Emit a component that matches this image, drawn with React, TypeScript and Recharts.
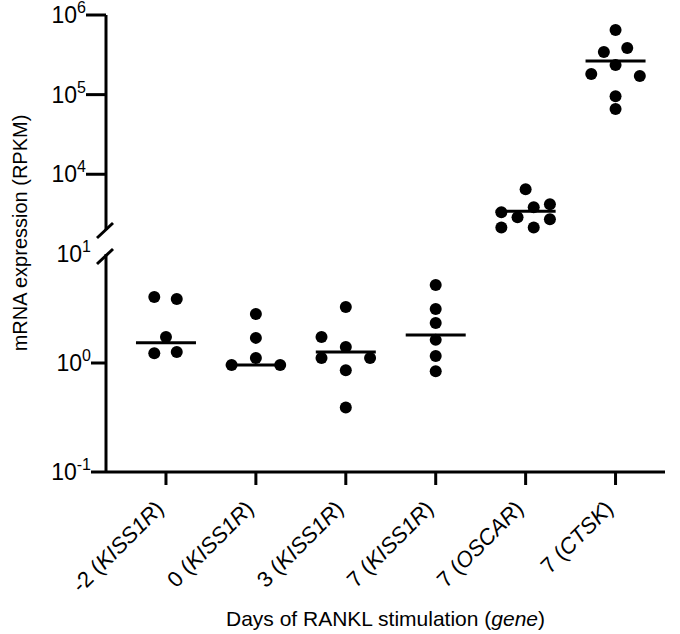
import React from 'react';
import { ScatterChart, Scatter, XAxis, YAxis } from 'recharts';

const days = ['-2', '0', '3', '7', '7', '7'];
const genes = ['KISS1R', 'KISS1R', 'KISS1R', 'KISS1R', 'OSCAR', 'CTSK'];

// RPKM per sample
const kiss1rDayMinus2 = [4.03, 3.87, 1.73, 1.23, 1.26];
const kiss1rDay0 = [2.82, 1.7, 1.11, 0.96, 0.96];
const kiss1rDay3 = [3.26, 1.73, 1.4, 1.11, 1.11, 0.86, 0.39];
const kiss1rDay7 = [5.2, 3.13, 2.33, 1.63, 1.16, 0.84];
const oscarDay7 = [6470, 3330, 2880, 3850, 4200, 2720, 2150, 2150];
const ctskDay7 = [647000, 343000, 385000, 235000, 181000, 171000, 95700, 65800];
const medians = [1.53, 0.96, 1.26, 1.81, 3430, 264000];

// sideways spread of each dot inside its column (in column units)
const spread = [
  [-0.13, 0.12, 0, -0.13, 0.12],
  [0, 0, 0, -0.27, 0.27],
  [0, -0.27, 0, -0.27, 0.27, 0, 0],
  [0, 0, 0, 0, 0, 0],
  [0, -0.27, -0.09, 0.09, 0.27, 0.27, -0.27, 0.09],
  [0, -0.13, 0.13, 0, -0.27, 0.27, 0, 0],
];

const lowerTicks = [0.1, 1, 10];
const upperTicks = [1e4, 1e5, 1e6];
const columnTicks = [0, 1, 2, 3, 4, 5];

const groups = [kiss1rDayMinus2, kiss1rDay0, kiss1rDay3, kiss1rDay7, oscarDay7, ctskDay7];
const points = groups.flatMap((vals, g) => vals.map((v, k) => ({ g, x: g + spread[g][k], y: v })));
const medianPoints = medians.map((m, g) => ({ g, x: g, y: m }));
const UPPER_FROM = 4; // columns drawn on the upper (broken) segment

const W = 680;
const H = 634;
const X_DOMAIN: [number, number] = [-0.667, 5.55];
const font = 'Arial, "Liberation Sans", sans-serif';

const Dot = (p: any) => <circle cx={p.cx} cy={p.cy} r={6} fill="#000" />;
const MedianBar = (p: any) => (
  <line x1={p.cx - 30} x2={p.cx + 30} y1={p.cy} y2={p.cy} stroke="#000" strokeWidth={3} />
);

const PowerTick = (p: any) => {
  const { x, y, payload, size } = p;
  const exp = Math.round(Math.log10(payload.value));
  return (
    <g>
      {exp !== 1 && <line x1={x} x2={x + size} y1={y} y2={y} stroke="#000" strokeWidth={3} />}
      <text x={x} y={y + 8} textAnchor="end" fontSize={23} fill="#000" fontFamily={font}>
        10<tspan dy={-10} fontSize={16}>{exp}</tspan>
      </text>
    </g>
  );
};

const DayTick = (p: any) => {
  const { x, y, payload } = p;
  const i = payload.value;
  const ax = x - 1;
  const ay = y + 25;
  return (
    <text x={ax} y={ay} transform={`rotate(-45, ${ax}, ${ay})`} textAnchor="end" fontSize={22} fill="#000" fontFamily={font}>
      {days[i]} (<tspan fontStyle="italic">{genes[i]}</tspan>)
    </text>
  );
};

const XTitle = (p: any) => {
  const vb = p.viewBox;
  return (
    <text x={vb.x + vb.width / 2} y={vb.y + 154} textAnchor="middle" fontSize={21} fill="#000" fontFamily={font}>
      Days of RANKL stimulation (<tspan fontStyle="italic">gene</tspan>)
    </text>
  );
};

const YTitle = (p: any) => {
  const vb = p.viewBox;
  const cx = 20;
  const cy = vb.y - 21;
  return (
    <text x={cx} y={cy} transform={`rotate(-90, ${cx}, ${cy})`} textAnchor="middle" dominantBaseline="central" fontSize={20} fill="#000" fontFamily={font}>
      mRNA expression (RPKM)
    </text>
  );
};

const layer: React.CSSProperties = { position: 'absolute', left: 0, top: 0 };

export default function App() {
  return (
    <div style={{ position: 'absolute', left: 0, top: 0, width: W, height: H, background: '#fff' }}>
      {/* lower segment, 10^-1 .. 10^1 */}
      <div style={layer}>
        <ScatterChart width={W} height={H} margin={{ top: 254, right: 15, bottom: 0, left: 0 }}>
          <XAxis
            type="number"
            dataKey="x"
            domain={X_DOMAIN}
            ticks={columnTicks}
            interval={0}
            height={162}
            tickSize={13}
            tickMargin={0}
            axisLine={{ stroke: '#000', strokeWidth: 3 }}
            tickLine={{ stroke: '#000', strokeWidth: 3 }}
            tick={DayTick}
            label={XTitle}
          />
          <YAxis
            type="number"
            dataKey="y"
            scale="log"
            domain={[0.1, 10]}
            ticks={lowerTicks}
            width={106}
            tickSize={15}
            tickMargin={0}
            tickLine={false}
            axisLine={{ stroke: '#000', strokeWidth: 3 }}
            tick={(p: any) => <PowerTick {...p} size={15} />}
            label={YTitle}
          />
          <Scatter data={points.filter((d) => d.g < UPPER_FROM)} shape={Dot} isAnimationActive={false} />
          <Scatter data={medianPoints.filter((d) => d.g < UPPER_FROM)} shape={MedianBar} isAnimationActive={false} />
        </ScatterChart>
      </div>

      {/* upper segment, above the break */}
      <div style={layer}>
        <ScatterChart width={W} height={H} margin={{ top: 15, right: 15, bottom: 404, left: 0 }}>
          <XAxis type="number" dataKey="x" domain={X_DOMAIN} hide />
          <YAxis
            type="number"
            dataKey="y"
            scale="log"
            domain={[1995, 1e6]}
            ticks={upperTicks}
            width={106}
            tickSize={20}
            tickMargin={0}
            tickLine={false}
            axisLine={{ stroke: '#000', strokeWidth: 3 }}
            tick={(p: any) => <PowerTick {...p} size={20} />}
          />
          <Scatter data={points.filter((d) => d.g >= UPPER_FROM)} shape={Dot} isAnimationActive={false} />
          <Scatter data={medianPoints.filter((d) => d.g >= UPPER_FROM)} shape={MedianBar} isAnimationActive={false} />
        </ScatterChart>
      </div>

      {/* axis break marks */}
      <svg width={W} height={H} style={{ ...layer, pointerEvents: 'none' }}>
        <line x1={97} y1={238} x2={113} y2={223} stroke="#000" strokeWidth={3} />
        <line x1={97} y1={264} x2={113} y2={249} stroke="#000" strokeWidth={3} />
      </svg>
    </div>
  );
}
